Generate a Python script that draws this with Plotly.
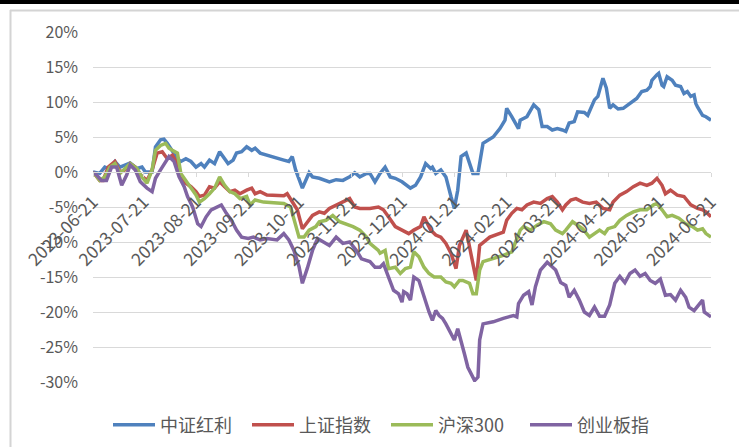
import plotly.graph_objects as go

# ---------------- data ----------------
ticks = ["2023-06-21", "2023-07-21", "2023-08-21", "2023-09-21", "2023-10-21",
         "2023-11-21", "2023-12-21", "2024-01-21", "2024-02-21", "2024-03-21",
         "2024-04-21", "2024-05-21", "2024-06-21"]
yticks = [-30, -25, -20, -15, -10, -5, 0, 5, 10, 15, 20]
names = ["中证红利", "上证指数", "沪深300", "创业板指"]
colors = ["#4F81BD", "#C0504D", "#9BBB59", "#8064A2"]

hl_dates = ["2023-06-21", "2023-06-25", "2023-06-28", "2023-07-01", "2023-07-04", "2023-07-07", "2023-07-13",
            "2023-07-17", "2023-07-20", "2023-07-22", "2023-07-26", "2023-07-28", "2023-07-31", "2023-08-02",
            "2023-08-04", "2023-08-07", "2023-08-10", "2023-08-12", "2023-08-15", "2023-08-18", "2023-08-21",
            "2023-08-24", "2023-08-26", "2023-08-29", "2023-09-01", "2023-09-04", "2023-09-06", "2023-09-09",
            "2023-09-12", "2023-09-14", "2023-09-17", "2023-09-20", "2023-09-23", "2023-09-25", "2023-09-28",
            "2023-10-06", "2023-10-12", "2023-10-15", "2023-10-17", "2023-10-19", "2023-10-21", "2023-10-23",
            "2023-10-27", "2023-10-29", "2023-11-02", "2023-11-08", "2023-11-12", "2023-11-16", "2023-11-20",
            "2023-11-23", "2023-11-26", "2023-11-30", "2023-12-02", "2023-12-05", "2023-12-08", "2023-12-11",
            "2023-12-14", "2023-12-17", "2023-12-21", "2023-12-24", "2023-12-26", "2023-12-29", "2024-01-01",
            "2024-01-04", "2024-01-07", "2024-01-08", "2024-01-10", "2024-01-13", "2024-01-16", "2024-01-19",
            "2024-01-21", "2024-01-23", "2024-01-25", "2024-01-28", "2024-01-30", "2024-02-01", "2024-02-04",
            "2024-02-07", "2024-02-13", "2024-02-17", "2024-02-20", "2024-02-21", "2024-02-24", "2024-02-27",
            "2024-02-28", "2024-02-29", "2024-03-04", "2024-03-08", "2024-03-11", "2024-03-13", "2024-03-16",
            "2024-03-19", "2024-03-22", "2024-03-25", "2024-03-27", "2024-03-29", "2024-04-01", "2024-04-03",
            "2024-04-07", "2024-04-09", "2024-04-11", "2024-04-13", "2024-04-15", "2024-04-17", "2024-04-18",
            "2024-04-20", "2024-04-22", "2024-04-24", "2024-04-27", "2024-04-30", "2024-05-05", "2024-05-08",
            "2024-05-11", "2024-05-14", "2024-05-16", "2024-05-17", "2024-05-20", "2024-05-21", "2024-05-23",
            "2024-05-24", "2024-05-26", "2024-05-29", "2024-05-31", "2024-06-03", "2024-06-05", "2024-06-07",
            "2024-06-09", "2024-06-11", "2024-06-12", "2024-06-13", "2024-06-16", "2024-06-18", "2024-06-21"]
hl_vals = [0.0, -0.2, 0.7, 0.4, 1.5, 0.7, 1.3,
           0.5, 0.7, 0.0, 0.0, 3.6, 4.6, 4.7,
           4.1, 3.1, 1.9, 1.5, 1.9, 1.5, 0.7,
           1.2, 0.7, 1.7, 1.2, 2.9, 2.2, 1.2,
           1.7, 2.7, 2.9, 3.6, 3.1, 3.4, 2.7,
           2.2, 1.7, 1.5, 2.2, 0.3, -1.2, -2.3,
           -0.1, -0.7, -0.9, -1.4, -1.1, -1.2, -0.7,
           -0.1, -0.7, -0.2, -0.2, -1.4, -0.2, 0.7,
           -0.7, -0.9, -1.4, -1.9, -2.3, -1.9, -0.7,
           1.2, 0.5, 0.7, -0.2, 0.3, -0.7, -3.5,
           -5.2, -2.6, 2.2, 2.7, 1.2, -0.2, -0.2,
           4.1, 5.0, 6.2, 7.4, 9.1, 7.9, 6.7,
           6.2, 7.4, 7.9, 9.6, 8.9, 6.5, 6.5,
           6.0, 6.2, 6.0, 5.8, 7.0, 7.2, 8.6,
           8.5, 8.1, 9.1, 10.3, 10.8, 12.9, 13.4,
           12.0, 9.1, 9.6, 9.0, 9.1, 10.0, 10.5,
           11.5, 11.7, 12.2, 13.1, 13.9, 14.1, 12.4,
           12.2, 13.6, 13.1, 12.4, 12.2, 11.2, 11.5,
           10.8, 11.0, 9.8, 9.3, 8.1, 7.9, 7.4]

sz_dates = ["2023-06-21", "2023-06-25", "2023-06-27", "2023-06-30", "2023-07-04", "2023-07-07", "2023-07-10",
            "2023-07-13", "2023-07-16", "2023-07-19", "2023-07-23", "2023-07-26", "2023-07-29", "2023-08-01",
            "2023-08-04", "2023-08-07", "2023-08-10", "2023-08-12", "2023-08-15", "2023-08-18", "2023-08-21",
            "2023-08-23", "2023-08-26", "2023-08-29", "2023-09-01", "2023-09-04", "2023-09-07", "2023-09-10",
            "2023-09-13", "2023-09-16", "2023-09-20", "2023-09-23", "2023-09-25", "2023-09-28", "2023-10-02",
            "2023-10-08", "2023-10-12", "2023-10-14", "2023-10-16", "2023-10-20", "2023-10-23", "2023-10-26",
            "2023-10-29", "2023-11-02", "2023-11-05", "2023-11-08", "2023-11-12", "2023-11-16", "2023-11-20",
            "2023-11-23", "2023-11-26", "2023-11-30", "2023-12-02", "2023-12-07", "2023-12-10", "2023-12-13",
            "2023-12-17", "2023-12-21", "2023-12-25", "2023-12-28", "2024-01-01", "2024-01-03", "2024-01-07",
            "2024-01-10", "2024-01-13", "2024-01-16", "2024-01-19", "2024-01-22", "2024-01-24", "2024-01-28",
            "2024-02-03", "2024-02-05", "2024-02-11", "2024-02-19", "2024-02-21", "2024-02-24", "2024-02-27",
            "2024-03-01", "2024-03-04", "2024-03-08", "2024-03-12", "2024-03-16", "2024-03-19", "2024-03-22",
            "2024-03-25", "2024-03-27", "2024-03-30", "2024-04-02", "2024-04-06", "2024-04-10", "2024-04-14",
            "2024-04-18", "2024-04-22", "2024-04-24", "2024-04-28", "2024-05-02", "2024-05-06", "2024-05-10",
            "2024-05-14", "2024-05-17", "2024-05-20", "2024-05-23", "2024-05-25", "2024-05-28", "2024-06-01",
            "2024-06-05", "2024-06-09", "2024-06-13", "2024-06-16", "2024-06-18", "2024-06-21"]
sz_vals = [0.0, -1.2, -1.2, 0.7, 1.5, 0.0, 0.3,
           1.2, 0.7, -0.4, -1.2, 0.3, 2.7, 2.9,
           1.9, 2.4, 1.2, -0.7, -1.6, -2.1, -2.8,
           -3.5, -3.3, -2.1, -2.3, -1.4, -2.1, -2.8,
           -2.6, -3.1, -2.6, -2.3, -3.1, -2.8, -3.3,
           -3.3, -3.4, -3.1, -3.8, -5.4, -8.1, -7.1,
           -6.2, -5.7, -5.9, -5.2, -4.7, -4.3, -3.8,
           -5.0, -5.2, -5.2, -5.2, -5.0, -5.4, -6.4,
           -7.8, -8.3, -8.8, -8.3, -7.8, -6.4, -8.3,
           -9.0, -9.3, -10.2, -11.6, -13.8, -10.5, -8.3,
           -15.5, -10.5, -9.3, -8.6, -6.9, -5.9, -5.2,
           -5.4, -4.7, -4.3, -4.5, -3.8, -3.5, -4.3,
           -5.4, -4.7, -4.0, -3.8, -4.3, -4.5, -4.3,
           -5.2, -5.4, -4.3, -3.3, -2.8, -2.1, -1.6,
           -1.9, -1.6, -0.9, -1.9, -3.1, -2.6, -3.3,
           -3.5, -4.7, -5.2, -5.4, -5.7, -6.4]

hs_dates = ["2023-06-21", "2023-06-25", "2023-06-28", "2023-07-01", "2023-07-04", "2023-07-07", "2023-07-10",
            "2023-07-13", "2023-07-17", "2023-07-20", "2023-07-23", "2023-07-26", "2023-07-28", "2023-07-31",
            "2023-08-03", "2023-08-05", "2023-08-07", "2023-08-10", "2023-08-12", "2023-08-15", "2023-08-18",
            "2023-08-21", "2023-08-23", "2023-08-26", "2023-08-29", "2023-09-01", "2023-09-04", "2023-09-07",
            "2023-09-10", "2023-09-13", "2023-09-16", "2023-09-20", "2023-09-22", "2023-09-25", "2023-09-30",
            "2023-10-08", "2023-10-12", "2023-10-16", "2023-10-18", "2023-10-21", "2023-10-24", "2023-10-27",
            "2023-10-31", "2023-11-02", "2023-11-06", "2023-11-10", "2023-11-14", "2023-11-18", "2023-11-22",
            "2023-11-26", "2023-11-30", "2023-12-02", "2023-12-07", "2023-12-08", "2023-12-11", "2023-12-13",
            "2023-12-17", "2023-12-20", "2023-12-23", "2023-12-26", "2023-12-28", "2023-12-31", "2024-01-03",
            "2024-01-06", "2024-01-09", "2024-01-13", "2024-01-16", "2024-01-19", "2024-01-21", "2024-01-24",
            "2024-01-26", "2024-01-30", "2024-02-01", "2024-02-03", "2024-02-05", "2024-02-07", "2024-02-13",
            "2024-02-19", "2024-02-24", "2024-02-26", "2024-02-27", "2024-02-29", "2024-03-02", "2024-03-06",
            "2024-03-10", "2024-03-14", "2024-03-18", "2024-03-21", "2024-03-25", "2024-03-27", "2024-03-31",
            "2024-04-03", "2024-04-06", "2024-04-10", "2024-04-13", "2024-04-16", "2024-04-19", "2024-04-21",
            "2024-04-25", "2024-04-28", "2024-05-02", "2024-05-06", "2024-05-10", "2024-05-14", "2024-05-18",
            "2024-05-20", "2024-05-23", "2024-05-26", "2024-05-29", "2024-06-02", "2024-06-06", "2024-06-10",
            "2024-06-13", "2024-06-16", "2024-06-18", "2024-06-21"]
hs_vals = [0.0, -1.2, -0.7, 0.7, 1.2, -0.2, 0.5,
           1.2, 0.5, -0.7, -1.6, 0.3, 3.1, 3.8,
           4.1, 3.4, 3.1, 2.7, -0.2, -1.2, -2.3,
           -3.3, -4.3, -3.8, -3.1, -2.3, -0.7, -1.9,
           -2.8, -3.1, -3.8, -3.5, -4.7, -4.0, -4.3,
           -4.5, -4.5, -5.0, -6.9, -9.3, -9.3, -8.3,
           -7.8, -7.1, -6.9, -6.2, -7.1, -7.4, -7.8,
           -8.3, -9.3, -10.2, -11.2, -11.6, -11.2, -13.8,
           -13.6, -14.5, -13.8, -13.6, -11.4, -12.1, -13.6,
           -14.5, -15.0, -15.0, -15.7, -15.9, -16.4, -15.5,
           -15.5, -15.9, -17.4, -17.4, -14.0, -12.8, -12.4,
           -11.9, -11.4, -10.2, -9.5, -8.3, -7.8, -8.3,
           -7.6, -7.1, -7.4, -8.3, -8.8, -8.3, -7.1,
           -7.6, -8.1, -9.3, -8.8, -8.3, -8.8, -8.1,
           -7.8, -6.9, -6.2, -5.7, -5.4, -5.4, -4.7,
           -4.5, -5.4, -6.4, -6.2, -6.6, -7.4, -7.8,
           -8.3, -8.1, -8.8, -9.3]

cy_dates = ["2023-06-21", "2023-06-23", "2023-06-26", "2023-06-29", "2023-07-02", "2023-07-05", "2023-07-08",
            "2023-07-11", "2023-07-13", "2023-07-16", "2023-07-19", "2023-07-23", "2023-07-26", "2023-07-28",
            "2023-07-31", "2023-08-02", "2023-08-05", "2023-08-08", "2023-08-11", "2023-08-14", "2023-08-16",
            "2023-08-19", "2023-08-22", "2023-08-24", "2023-08-27", "2023-08-30", "2023-09-02", "2023-09-05",
            "2023-09-08", "2023-09-11", "2023-09-14", "2023-09-17", "2023-09-21", "2023-09-24", "2023-09-28",
            "2023-10-02", "2023-10-08", "2023-10-12", "2023-10-15", "2023-10-18", "2023-10-21", "2023-10-23",
            "2023-10-26", "2023-10-29", "2023-11-01", "2023-11-05", "2023-11-08", "2023-11-12", "2023-11-16",
            "2023-11-20", "2023-11-24", "2023-11-27", "2023-12-02", "2023-12-05", "2023-12-08", "2023-12-10",
            "2023-12-13", "2023-12-16", "2023-12-19", "2023-12-21", "2023-12-22", "2023-12-24", "2023-12-26",
            "2023-12-28", "2023-12-31", "2024-01-03", "2024-01-06", "2024-01-08", "2024-01-10", "2024-01-12",
            "2024-01-14", "2024-01-16", "2024-01-19", "2024-01-21", "2024-01-23", "2024-01-25", "2024-01-27",
            "2024-01-29", "2024-01-31", "2024-02-02", "2024-02-04", "2024-02-05", "2024-02-07", "2024-02-13",
            "2024-02-19", "2024-02-23", "2024-02-25", "2024-02-27", "2024-02-28", "2024-03-02", "2024-03-05",
            "2024-03-07", "2024-03-09", "2024-03-12", "2024-03-16", "2024-03-21", "2024-03-24", "2024-03-27",
            "2024-03-29", "2024-04-01", "2024-04-04", "2024-04-07", "2024-04-10", "2024-04-13", "2024-04-16",
            "2024-04-19", "2024-04-22", "2024-04-25", "2024-04-28", "2024-05-01", "2024-05-04", "2024-05-07",
            "2024-05-10", "2024-05-13", "2024-05-16", "2024-05-19", "2024-05-22", "2024-05-25", "2024-05-28",
            "2024-05-31", "2024-06-03", "2024-06-06", "2024-06-08", "2024-06-11", "2024-06-14", "2024-06-16",
            "2024-06-17", "2024-06-21"]
cy_vals = [0.0, -0.4, -1.2, -1.2, 0.7, 0.7, -1.9,
           -0.4, 1.0, 0.3, -1.4, -2.3, -2.8, -0.9,
           0.3, 1.0, 2.2, 1.5, -0.7, -2.1, -3.5,
           -5.0, -7.4, -7.8, -6.4, -5.4, -5.0, -4.7,
           -5.9, -6.9, -8.3, -9.3, -9.5, -9.3, -9.7,
           -9.5, -9.7, -8.8, -9.7, -11.2, -13.5, -15.9,
           -13.7, -11.2, -9.5, -10.0, -10.5, -9.3, -10.2,
           -10.0, -11.2, -12.4, -12.8, -13.6, -13.6, -13.1,
           -15.0, -16.9, -17.4, -18.6, -17.1, -17.4, -18.3,
           -15.0, -15.5, -17.9, -20.0, -21.2, -19.8, -20.5,
           -20.9, -21.7, -23.1, -24.0, -22.4, -24.0, -26.0,
           -27.9, -28.8, -29.8, -29.3, -24.0, -21.7, -21.4,
           -20.9, -20.7, -20.5, -20.7, -18.8, -17.6, -17.1,
           -19.0, -16.4, -14.0, -12.9, -14.0, -15.8, -16.2,
           -17.9, -16.9, -18.3, -20.0, -20.5, -19.3, -20.6,
           -20.6, -19.0, -15.9, -14.9, -15.8, -14.5, -14.0,
           -14.9, -14.5, -15.5, -15.9, -15.3, -17.6, -17.5,
           -18.3, -16.9, -17.9, -19.3, -19.8, -19.0, -18.3,
           -20.0, -20.7]

series = [(hl_dates, hl_vals), (sz_dates, sz_vals), (hs_dates, hs_vals), (cy_dates, cy_vals)]

# ---------------- layout constants ----------------
W, H = 739, 447
L, R, T, B = 93, 28, 32, 65
FONT = "Noto Sans CJK SC, Noto Sans, sans-serif"
GREY = "#595959"
GRID = "#d9d9d9"

fig = go.Figure()
for (d, v), n, c in zip(series, names, colors):
    fig.add_trace(go.Scatter(x=d, y=v, name=n, mode="lines",
                             line=dict(color=c, width=3.5)))

def fx(px):
    return (px - L) / (W - L - R)

def fy(py):
    return (H - B - py) / (H - T - B)

shapes = [
    dict(type="rect", xref="paper", yref="paper", x0=fx(0), x1=fx(W), y0=fy(0), y1=fy(4),
         fillcolor="black", line=dict(width=0), layer="above"),
    dict(type="line", xref="paper", yref="paper", x0=fx(10.5), x1=fx(10.5), y0=fy(10), y1=fy(H),
         line=dict(color="#d4d4d4", width=2)),
    dict(type="line", xref="paper", yref="paper", x0=fx(10), x1=fx(W), y0=fy(10.5), y1=fy(10.5),
         line=dict(color="#d4d4d4", width=2)),
]

ymin, ymax = yticks[0], yticks[-1]
fig.update_layout(
    width=W, height=H,
    margin=dict(l=L, r=R, t=T, b=B, pad=0, autoexpand=False),
    paper_bgcolor="white", plot_bgcolor="white",
    font=dict(family=FONT, color=GREY, size=16),
    showlegend=True,
    legend=dict(orientation="h", x=fx(108), xanchor="left", y=fy(425), yanchor="middle",
                font=dict(size=18, color=GREY, family=FONT), itemwidth=42,
                entrywidth=82, entrywidthmode="pixels",
                bgcolor="rgba(0,0,0,0)"),
    shapes=shapes,
    xaxis=dict(type="date", range=[ticks[0], ticks[-1]],
               tickmode="array", tickvals=ticks, ticktext=ticks,
               tickangle=-45, showgrid=False, zeroline=False,
               showline=True, linecolor=GRID, linewidth=1,
               ticks="outside", ticklen=4, tickcolor=GRID,
               ticklabelstandoff=8,
               anchor="free", position=(0 - ymin) / (ymax - ymin),
               tickfont=dict(size=17.5, color=GREY, family=FONT)),
    yaxis=dict(range=[ymin, ymax], tickmode="array", tickvals=yticks,
               ticktext=[f"{t}%" for t in yticks],
               showgrid=True, gridcolor=GRID, gridwidth=1, zeroline=False,
               showline=False, ticks="", ticklabelstandoff=14,
               tickfont=dict(size=16, color=GREY, family=FONT)),
)

fig.write_html("out.html")
